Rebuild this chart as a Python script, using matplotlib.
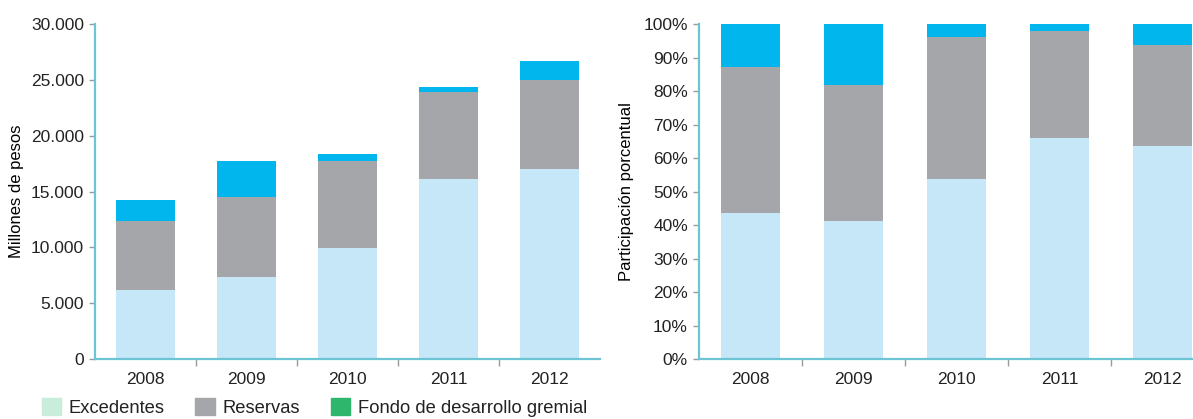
import numpy as np
import matplotlib
matplotlib.use('Agg')
from matplotlib import pyplot as plt
from matplotlib.patches import Patch
from matplotlib.ticker import FuncFormatter

years = ['2008', '2009', '2010', '2011', '2012']
# millones de pesos
excedentes = [6200, 7300, 9900, 16100, 17000]
reservas = [6200, 7200, 7800, 7800, 8000]
fondo = [1850, 3200, 700, 500, 1700]

labels = ['Excedentes', 'Reservas', 'Fondo de desarrollo gremial']
bar_colors = ['#c6e7f8', '#a4a6a9', '#00b6ec']
legend_colors = ['#c8edda', '#a4a6a9', '#2db66c']
axis_color = '#6cc4d4'

plt.rcParams['font.family'] = ['Liberation Sans', 'DejaVu Sans']
plt.rcParams['font.size'] = 12.5
plt.rcParams['text.color'] = '#222222'

exc = np.array(excedentes, dtype=float)
res = np.array(reservas, dtype=float)
fon = np.array(fondo, dtype=float)
total = exc + res + fon
x = np.arange(len(years))
w = 0.58

fig = plt.figure(figsize=(11.93, 4.19), dpi=100)
ax1 = fig.add_axes([95 / 1193, 60 / 419, 505 / 1193, 335 / 419])
ax2 = fig.add_axes([699 / 1193, 60 / 419, 494 / 1193, 335 / 419])


def style(ax):
    for s in ['top', 'right']:
        ax.spines[s].set_visible(False)
    for s in ['left', 'bottom']:
        ax.spines[s].set_color(axis_color)
        ax.spines[s].set_linewidth(1.6)
    ax.tick_params(axis='y', length=4, width=1, color='#9a9a9a', pad=4,
                   labelsize=12.5, labelcolor='#222222')
    ax.tick_params(axis='x', which='major', length=0, pad=9,
                   labelsize=12.5, labelcolor='#222222')
    ax.tick_params(axis='x', which='minor', length=5, width=1, color='#9a9a9a')
    ax.set_xticks(x)
    ax.set_xticklabels(years)


# valores absolutos
ax1.bar(x, exc, w, color=bar_colors[0])
ax1.bar(x, res, w, bottom=exc, color=bar_colors[1])
ax1.bar(x, fon, w, bottom=exc + res, color=bar_colors[2])
ax1.set_xlim(-0.5, 4.5)
ax1.set_ylim(0, 30000)
ax1.set_yticks(np.arange(0, 30001, 5000))
ax1.yaxis.set_major_formatter(FuncFormatter(lambda v, p: f'{int(v):,}'.replace(',', '.')))
ax1.set_xticks(np.arange(0.5, 4.5, 1), minor=True)
ax1.set_ylabel('Millones de pesos', fontsize=12, labelpad=5)
style(ax1)

# participacion porcentual
p_exc = exc / total * 100
p_res = res / total * 100
p_fon = fon / total * 100
ax2.bar(x, p_exc, w, color=bar_colors[0])
ax2.bar(x, p_res, w, bottom=p_exc, color=bar_colors[1])
ax2.bar(x, p_fon, w, bottom=p_exc + p_res, color=bar_colors[2])
ax2.set_xlim(-0.5, -0.5 + 494 / 103)
ax2.set_ylim(0, 100)
ax2.set_yticks(np.arange(0, 101, 10))
ax2.yaxis.set_major_formatter(FuncFormatter(lambda v, p: f'{int(v)}%'))
ax2.set_xticks(np.arange(0.5, 4.5, 1), minor=True)
ax2.set_ylabel('Participación porcentual', fontsize=12, labelpad=7)
style(ax2)

handles = [Patch(color=c) for c in legend_colors]
fig.legend(handles, labels, loc='lower left', bbox_to_anchor=(25 / 1193, -0.035),
           ncol=3, frameon=False, handlelength=1.05, handleheight=1.05,
           handletextpad=0.45, columnspacing=1.65, fontsize=13.2)

fig.savefig('out.png', dpi=100)
